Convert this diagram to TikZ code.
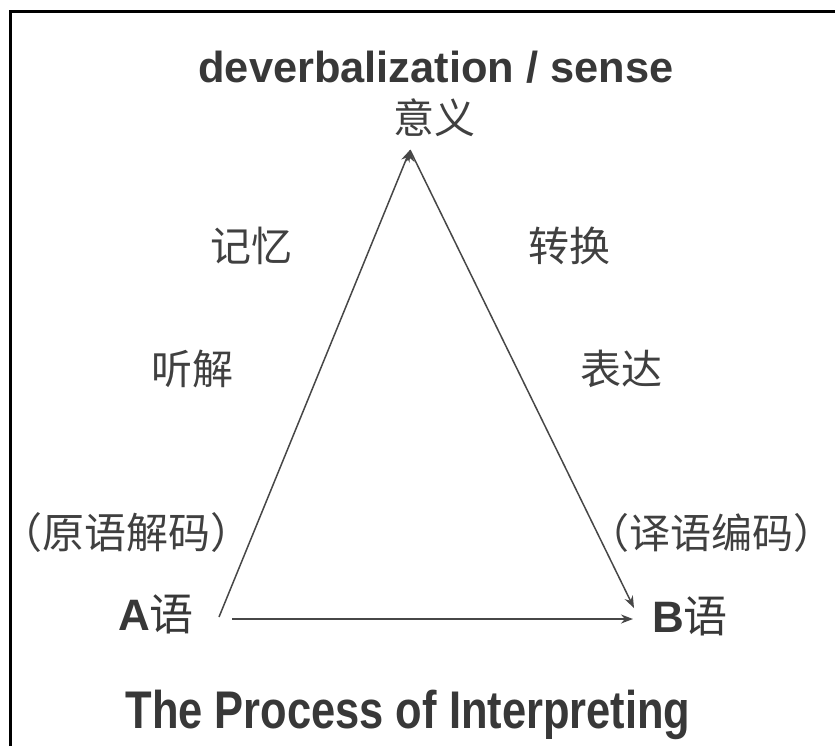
\documentclass[tikz,border=0pt]{standalone}
\usepackage{fontspec}
\setmainfont{Liberation Sans}
\newfontfamily\cjk{Noto Sans CJK SC}
\usepackage{graphicx}
\usetikzlibrary{positioning, calc}
\usetikzlibrary{arrows.meta}

\begin{document}
\begin{tikzpicture}[x=0.5pt,y=-0.5pt,draw=black!72]
	\def \topline{82}
	\def \upperrow{246}
	\def \middlerow{369}
	\def \lowerrow{533}
	\def \baserow{630}
	\tikzstyle{en-label}=[font=\fontsize{21.7}{24}\selectfont\bfseries,text=black!78,inner sep=0pt]
	\tikzstyle{zh-label}=[font=\fontsize{20.5}{23}\selectfont\cjk,text=black!75,inner sep=0pt]
	\tikzstyle{zh-paren}=[zh-label,font=\fontsize{21}{23}\selectfont\cjk]
	\tikzstyle{lang}=[font=\fontsize{22}{24}\selectfont,text=black!78,inner sep=0pt,anchor=base]
	\tikzstyle{flow}=[draw=black!72,line width=0.75pt,-{Stealth[length=6pt,width=4.5pt]}]
	\useasboundingbox (0,0) rectangle (835,746);
	% frame
	\draw[black,line width=1.5pt] (10.5,746) -- (10.5,11) -- (835,11);

	% sense at the top
	\node[en-label,anchor=base] 	(sense-en)	at (436,\topline)	{deverbalization / sense};
	\node[zh-label] 	(sense-zh)	at (434,118)	{意义};

	% left side
	\node[zh-label] 	(memory)	at (251,\upperrow)	{记忆};
	\node[zh-label] 	(listen)	at (192,\middlerow)	{听解};
	\node[zh-paren] 	(decode)	at (127,\lowerrow)	{\kern-0.45em（原语解码）\kern-0.45em};

	% right side
	\node[zh-label] 	(convert)	at (569,\upperrow)	{转换};
	\node[zh-label] 	(express)	at (621,\middlerow)	{表达};
	\node[zh-label] 	(encode)	at (711,\lowerrow)	{（译语编码）};

	% languages
	\node[lang] 	(lang-a)	at (156,\baserow)	{{\bfseries A}{\cjk 语}};
	\node[lang] 	(lang-b)	at (690,\baserow+2)	{{\bfseries B}{\cjk 语}};

	\node[en-label,anchor=base,font=\fontsize{26.5}{30}\selectfont\bfseries] 	(caption)	at (408,728)	{\scalebox{0.82}[1]{The Process of Interpreting}};

	% triangle corners
	\coordinate (apex) 	at (410,150);
	\coordinate (a-foot) 	at (219,617);
	\coordinate (h-start) 	at (232,619);
	\coordinate (h-end) 	at (633,619);
	\coordinate (b-foot) 	at (634,608);

	\path[flow]
		(a-foot)	edge	(apex)

		(h-start)	edge	(h-end)

		(apex)	edge	(b-foot);
\end{tikzpicture}
\end{document}
